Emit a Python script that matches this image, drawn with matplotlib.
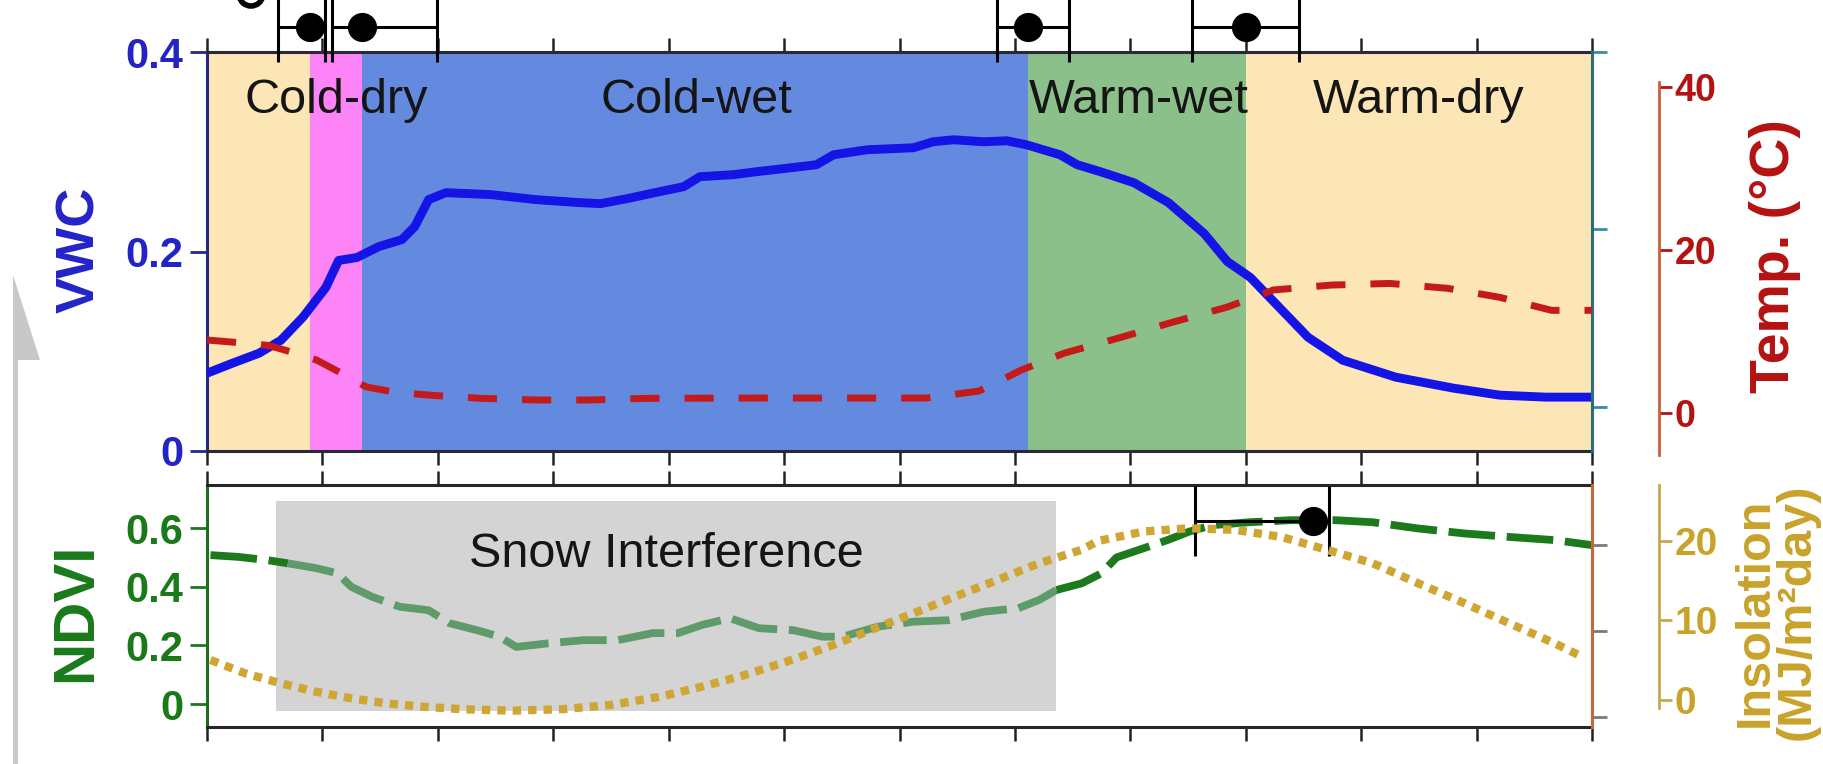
import matplotlib
matplotlib.use('Agg')
import matplotlib.pyplot as plt
import numpy as np
from matplotlib.patches import Polygon, Arc
from matplotlib.lines import Line2D

plt.rcParams['font.family'] = ['Liberation Sans', 'DejaVu Sans']

# ---------------- data ----------------
MONTH_TICKS = list(range(0, 13))

SEASON_NAMES = ['Cold-dry', 'Cold-wet', 'Warm-wet', 'Warm-dry']
SEASON_LABEL_X = [1.12, 4.24, 8.07, 10.5]
SEASON_EDGES = [0.0, 0.893, 1.343, 7.114, 9.003, 12.0]
SEASON_COLORS = ['#fce6b5', '#fd84f6', '#648ae0', '#8cc08b', '#fce6b5']

TRANSITIONS = [0.893, 1.343, 7.114, 9.003]
TRANS_LO = [0.615, 1.083, 6.846, 8.536]
TRANS_HI = [1.022, 1.993, 7.470, 9.463]

VWC_X = [0.0, 0.22, 0.45, 0.64, 0.83, 1.03, 1.14, 1.30, 1.49, 1.69, 1.80, 1.92,
         2.07, 2.46, 2.85, 3.23, 3.41, 3.64, 3.84, 4.13, 4.27, 4.56, 4.76, 4.99,
         5.28, 5.43, 5.72, 6.12, 6.29, 6.47, 6.73, 6.93, 7.10, 7.39, 7.54, 7.74,
         8.03, 8.33, 8.64, 8.84, 9.04, 9.29, 9.54, 9.84, 10.30, 10.80, 11.20,
         11.60, 12.0]
VWC_Y = [0.078, 0.088, 0.098, 0.111, 0.134, 0.164, 0.191, 0.194, 0.205, 0.212,
         0.225, 0.252, 0.259, 0.257, 0.252, 0.249, 0.248, 0.253, 0.258, 0.265,
         0.275, 0.277, 0.280, 0.283, 0.287, 0.297, 0.302, 0.304, 0.310, 0.312,
         0.310, 0.311, 0.307, 0.297, 0.287, 0.280, 0.269, 0.249, 0.218, 0.190,
         0.174, 0.144, 0.114, 0.091, 0.074, 0.063, 0.056, 0.054, 0.054]

TEMP_X = [0.0, 0.22, 0.53, 0.68, 0.95, 1.15, 1.38, 1.61, 1.92, 2.38, 2.85, 3.31,
          3.81, 4.79, 6.23, 6.69, 7.06, 7.43, 7.93, 8.33, 8.84, 9.24, 9.74,
          10.25, 10.75, 11.20, 11.65, 12.0]
TEMP_Y = [8.96, 8.7, 8.3, 7.7, 6.5, 5.0, 3.2, 2.6, 2.2, 1.8, 1.6, 1.6, 1.8, 1.84,
          1.84, 2.7, 5.3, 7.36, 9.33, 11.0, 13.0, 15.1, 15.7, 15.9, 15.3, 14.2,
          12.6, 12.6]

NDVI_X = [0.03, 0.27, 0.52, 0.70, 0.94, 1.13, 1.25, 1.43, 1.67, 1.92, 2.10, 2.34,
          2.53, 2.68, 2.95, 3.26, 3.56, 3.86, 4.08, 4.29, 4.53, 4.78, 5.08, 5.33,
          5.51, 5.81, 6.12, 6.42, 6.73, 7.03, 7.21, 7.36, 7.58, 7.75, 7.88, 8.12,
          8.32, 8.51, 8.71, 9.03, 9.39, 9.78, 10.10, 10.49, 10.89, 11.28, 11.68,
          12.0]
NDVI_Y = [0.508, 0.502, 0.491, 0.48, 0.464, 0.446, 0.40, 0.366, 0.332, 0.32,
          0.276, 0.252, 0.23, 0.195, 0.207, 0.218, 0.218, 0.242, 0.242, 0.27,
          0.293, 0.259, 0.252, 0.23, 0.23, 0.264, 0.281, 0.286, 0.315, 0.327,
          0.355, 0.389, 0.412, 0.446, 0.50, 0.532, 0.559, 0.588, 0.61, 0.62,
          0.627, 0.627, 0.62, 0.599, 0.582, 0.57, 0.559, 0.542]

INSOL_X = [0.03, 0.33, 0.64, 0.94, 1.25, 1.55, 1.86, 2.22, 2.65, 3.07, 3.50, 3.93,
           4.29, 4.66, 5.02, 5.39, 5.75, 6.12, 6.48, 6.85, 7.21, 7.58, 7.72, 8.12,
           8.51, 8.91, 9.31, 9.70, 10.10, 10.49, 10.89, 11.29, 11.68, 11.92]
INSOL_Y = [5.03, 3.35, 2.1, 1.05, 0.21, -0.42, -0.84, -1.17, -1.34, -1.17, -0.63,
           0.42, 1.68, 3.14, 4.82, 6.71, 8.8, 10.9, 13.0, 15.1, 17.2, 18.9, 20.0,
           21.2, 21.6, 21.4, 20.5, 18.9, 17.2, 14.7, 12.2, 9.6, 7.1, 5.4]

SNOW_START, SNOW_END = 0.6, 7.36
SNOW_LO, SNOW_HI = -0.024, 0.692

NDVI_PEAK_X, NDVI_PEAK_LO, NDVI_PEAK_HI, NDVI_PEAK_VAL = 9.58, 8.56, 9.72, 0.624

# ---------------- layout ----------------
W, H = 1824, 764
fig = plt.figure(figsize=(W / 100, H / 100), dpi=100)


def rect(l, t, r, b):
    return [l / W, 1 - b / H, (r - l) / W, (b - t) / H]


ax_top = fig.add_axes(rect(207, 52, 1592, 451))
ax_bot = fig.add_axes(rect(207, 485, 1592, 727))

SPINE_DARK = '#2a2a36'
VWC_COL = '#1414e6'
VWC_TXT = '#2323c8'
TEMP_COL = '#c41a1a'
TEMP_TXT = '#b51212'
NDVI_DARK = '#1c7a1c'
NDVI_LIGHT = '#5f9b6a'
NDVI_TXT = '#1a7a1a'
INS_COL = '#cfa534'
INS_TXT = '#c9a22a'

# ---------------- top panel ----------------
vwc_lim = (0.0, 0.4)
ax_top.set_xlim(0, 12)
ax_top.set_ylim(*vwc_lim)
for i in range(len(SEASON_EDGES) - 1):
    ax_top.axvspan(SEASON_EDGES[i], SEASON_EDGES[i + 1], color=SEASON_COLORS[i],
                   lw=0, zorder=0)
ax_top.plot(VWC_X, VWC_Y, color=VWC_COL, lw=6.4, zorder=3, solid_capstyle='butt',
            solid_joinstyle='round')

for name, xm in zip(SEASON_NAMES, SEASON_LABEL_X):
    ax_top.text(xm, 0.847, name, transform=ax_top.get_xaxis_transform(),
                ha='center', va='baseline', fontsize=35, color='#151515', zorder=4)

ax_top.set_xticks(MONTH_TICKS)
ax_top.tick_params(axis='x', top=True, bottom=True, direction='out', length=10,
                   width=1.8, color='#222222', labelbottom=False, labeltop=False)
ax_top.set_yticks([0, 0.2, 0.4])
ax_top.set_yticklabels(['0', '0.2', '0.4'])
ax_top.tick_params(axis='y', left=True, right=False, direction='out', length=12,
                   width=2, color='#26268e', labelsize=30, labelcolor=VWC_TXT, pad=5)
for lab in ax_top.get_yticklabels():
    lab.set_fontweight('bold')
for s in ['top', 'bottom']:
    ax_top.spines[s].set_color(SPINE_DARK)
    ax_top.spines[s].set_linewidth(2.2)
ax_top.spines['left'].set_color('#28288a')
ax_top.spines['left'].set_linewidth(2.2)
ax_top.spines['right'].set_visible(False)

# season transitions with error bars above the top panel
dot_y = vwc_lim[0] + 1.063 * (vwc_lim[1] - vwc_lim[0])
xerr = [np.array(TRANSITIONS) - np.array(TRANS_LO),
        np.array(TRANS_HI) - np.array(TRANSITIONS)]
eb = ax_top.errorbar(TRANSITIONS, [dot_y] * len(TRANSITIONS), xerr=xerr, fmt='o',
                     color='k', ms=20, capsize=25, elinewidth=2.2, capthick=2.2,
                     zorder=10)
for art in eb.get_children():
    art.set_clip_on(False)

# hidden teal right axis
ax_h = ax_top.twinx()
ax_h.set_ylim(-0.249, 2.0)
ax_h.set_yticks([0, 1, 2])
ax_h.set_yticklabels([])
ax_h.tick_params(axis='y', direction='out', length=11, width=2, color='#3a8aa8')
for s in ['top', 'bottom', 'left']:
    ax_h.spines[s].set_visible(False)
ax_h.spines['right'].set_color('#2f6b7a')
ax_h.spines['right'].set_linewidth(2.2)

# temperature axis
ax_t = ax_top.twinx()
ax_t.set_ylim(-4.66, 44.3)
ax_t.plot(TEMP_X, TEMP_Y, color=TEMP_COL, lw=5.0, dashes=(4.2, 3.6), zorder=4)
for s in ['top', 'bottom', 'left']:
    ax_t.spines[s].set_visible(False)
ax_t.spines['right'].set_position(('axes', (1659 - 207) / 1385))
ax_t.spines['right'].set_bounds(-5.15, 40.6)
ax_t.spines['right'].set_color('#c9603c')
ax_t.spines['right'].set_linewidth(2)
ax_t.set_yticks([0, 20, 40])
ax_t.tick_params(axis='y', direction='out', length=9, width=2, color=TEMP_TXT,
                 labelsize=27, labelcolor=TEMP_TXT, pad=2)
for lab in ax_t.get_yticklabels():
    lab.set_fontweight('bold')

# ---------------- bottom panel ----------------
ax_bot.set_xlim(0, 12)
ax_bot.set_ylim(-0.078, 0.747)
ax_bot.fill_between([SNOW_START, SNOW_END], SNOW_LO, SNOW_HI, color='#d4d4d4',
                    lw=0, zorder=1)
ax_bot.text((SNOW_START + SNOW_END) / 2, 0.469, 'Snow Interference',
            ha='center', va='baseline', fontsize=35, color='#151515', zorder=2)

nx = np.array(NDVI_X)
ny = np.array(NDVI_Y)
inside = np.where((nx >= SNOW_START) & (nx <= SNOW_END))[0]
i0, i1 = inside[0], inside[-1]
nd_kw = dict(lw=5.6, dashes=(6, 1.5), zorder=3)
ax_bot.plot(nx[:i0 + 1], ny[:i0 + 1], color=NDVI_DARK, **nd_kw)
ax_bot.plot(nx[i0:i1 + 1], ny[i0:i1 + 1], color=NDVI_LIGHT, **nd_kw)
ax_bot.plot(nx[i1:], ny[i1:], color=NDVI_DARK, **nd_kw)

ax_bot.errorbar([NDVI_PEAK_X], [NDVI_PEAK_VAL],
                xerr=[[NDVI_PEAK_X - NDVI_PEAK_LO], [NDVI_PEAK_HI - NDVI_PEAK_X]],
                fmt='o', color='k', ms=20, capsize=25, elinewidth=2.2,
                capthick=2.2, zorder=10)

ax_bot.set_xticks(MONTH_TICKS)
ax_bot.tick_params(axis='x', top=True, bottom=True, direction='out', length=10,
                   width=1.8, color='#222222', labelbottom=False, labeltop=False)
ax_bot.set_yticks([0, 0.2, 0.4, 0.6])
ax_bot.set_yticklabels(['0', '0.2', '0.4', '0.6'])
ax_bot.tick_params(axis='y', left=True, right=False, direction='out', length=12,
                   width=2, color=NDVI_TXT, labelsize=30, labelcolor=NDVI_TXT, pad=5)
for lab in ax_bot.get_yticklabels():
    lab.set_fontweight('bold')
for s in ['top', 'bottom']:
    ax_bot.spines[s].set_color('#262626')
    ax_bot.spines[s].set_linewidth(2.2)
ax_bot.spines['left'].set_color('#1f6e1f')
ax_bot.spines['left'].set_linewidth(2.2)
ax_bot.spines['right'].set_visible(False)

# hidden right axis (bottom)
ax_g = ax_bot.twinx()
ax_g.set_ylim(-0.116, 2.698)
ax_g.set_yticks([0, 1, 2])
ax_g.set_yticklabels([])
ax_g.tick_params(axis='y', direction='out', length=11, width=2, color='#7a7a7a')
for s in ['top', 'bottom', 'left']:
    ax_g.spines[s].set_visible(False)
ax_g.spines['right'].set_color('#c8673a')
ax_g.spines['right'].set_linewidth(2.2)

# insolation axis
ax_i = ax_bot.twinx()
ax_i.set_ylim(-3.40, 27.04)
ax_i.plot(INSOL_X, INSOL_Y, color=INS_COL, lw=6.0, dashes=(1.0, 0.85), zorder=4)
for s in ['top', 'bottom', 'left']:
    ax_i.spines[s].set_visible(False)
ax_i.spines['right'].set_position(('axes', (1659 - 207) / 1385))
ax_i.spines['right'].set_bounds(-1.0, 27.04)
ax_i.spines['right'].set_color('#c8a850')
ax_i.spines['right'].set_linewidth(2)
ax_i.set_yticks([0, 10, 20])
ax_i.tick_params(axis='y', direction='out', length=9, width=2, color='#c8a850',
                 labelsize=28, labelcolor=INS_TXT, pad=2)
for lab in ax_i.get_yticklabels():
    lab.set_fontweight('bold')

# ---------------- axis titles ----------------
fig.text(80 / W, 1 - 250 / H, 'VWC', rotation=90, ha='center', va='center',
         fontsize=39, fontweight='bold', color=VWC_TXT)
fig.text(76 / W, 1 - 612 / H, 'NDVI', rotation=90, ha='center', va='center',
         fontsize=42, fontweight='bold', color=NDVI_TXT)
fig.text(1775 / W, 1 - 256 / H, 'Temp. (°C)', rotation=90, ha='center',
         va='center', fontsize=40, fontweight='bold', color=TEMP_TXT)
fig.text(1776 / W, 1 - 612 / H, 'Insolation\n(MJ/m²day)', rotation=90,
         ha='center', va='center', fontsize=35, fontweight='bold',
         color=INS_TXT, linespacing=0.92, multialignment='center')

# ---------------- decorations ----------------
arrow_col = '#c8c8c8'
fig.add_artist(Polygon([[13 / W, 1 - 275 / H], [13 / W, 1 - 360 / H],
                        [40 / W, 1 - 360 / H]], closed=True,
                       transform=fig.transFigure, color=arrow_col, lw=0))
fig.add_artist(Line2D([15 / W, 15 / W], [0, 1 - 360 / H], transform=fig.transFigure,
                      color=arrow_col, lw=3.5))
fig.add_artist(Arc((251 / W, 1 + 6 / H), 24 / W, 24 / H, theta1=205, theta2=335,
                   transform=fig.transFigure, color='k', lw=4))

fig.savefig('out.png', dpi=100, facecolor='white')
